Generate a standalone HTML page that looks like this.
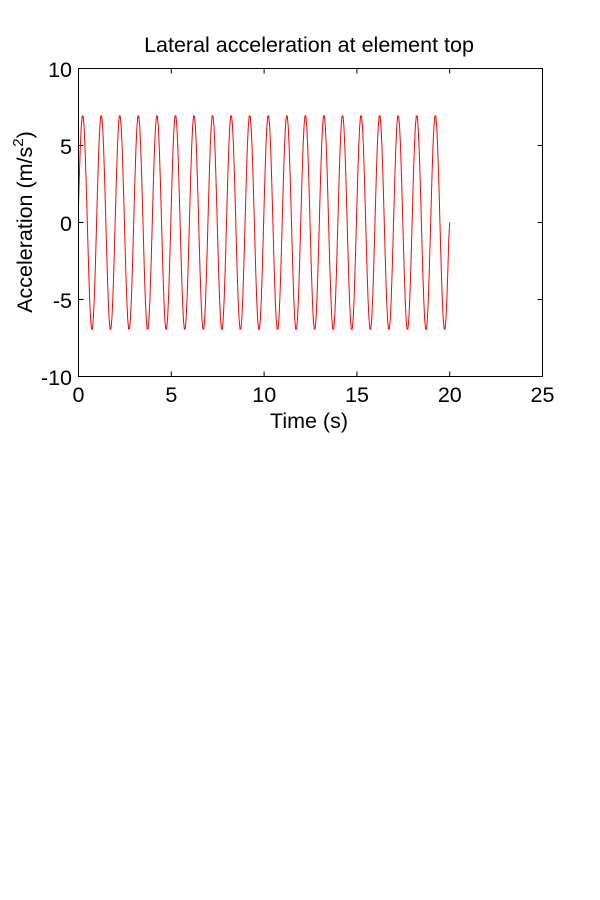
<!DOCTYPE html>
<html><head><meta charset="utf-8"><style>
body{margin:0;background:#fff;}
svg{display:block;font-family:"Liberation Sans",Arial,sans-serif;}
</style></head><body>
<svg id="s" width="600" height="900" xmlns="http://www.w3.org/2000/svg">
<rect width="600" height="900" fill="#fff"/>
<text x="309" y="52" font-size="21.5" text-anchor="middle">Lateral acceleration at element top</text>
<g id="ticks" stroke="#000" stroke-width="1"></g>
<polyline id="p" fill="none" stroke="#f00" stroke-width="1"/>
<rect x="78.5" y="68.5" width="464" height="308" fill="none" stroke="#000" stroke-width="1"/>
<g font-size="21.5" text-anchor="end">
<text x="72" y="77">10</text>
<text x="72" y="154">5</text>
<text x="72" y="231">0</text>
<text x="72" y="308">-5</text>
<text x="72" y="385">-10</text>
</g>
<g font-size="21.5" text-anchor="middle">
<text x="78.5" y="402">0</text>
<text x="171.3" y="402">5</text>
<text x="264.2" y="402">10</text>
<text x="357" y="402">15</text>
<text x="449.8" y="402">20</text>
<text x="542.5" y="402">25</text>
</g>
<text x="309" y="428" font-size="21.5" text-anchor="middle">Time (s)</text>
<text transform="translate(32,222) rotate(-90)" font-size="21.5" text-anchor="middle">Acceleration (m/s<tspan font-size="15" dy="-9">2</tspan><tspan dy="9">)</tspan></text>
</svg>
<script>
var X=t=>78.5+t*(464/25), Y=v=>222.5-v*15.4;
var pts=[];
for(var i=0;i<=400;i++){var t=i*0.05;var v=7*Math.sin(2*Math.PI*t+0.16);if(i==400)v=0;pts.push(X(t).toFixed(2)+','+Y(v).toFixed(2));}
document.getElementById('p').setAttribute('points',pts.join(' '));
var g=document.getElementById('ticks'),h='';
for(var k=0;k<=25;k+=5){var x=X(k);h+='<line x1="'+x+'" y1="376.5" x2="'+x+'" y2="371.5"/><line x1="'+x+'" y1="68.5" x2="'+x+'" y2="73.5"/>';}
for(var v=-10;v<=10;v+=5){var y=Y(v);h+='<line x1="78.5" y1="'+y+'" x2="83.5" y2="'+y+'"/><line x1="542.5" y1="'+y+'" x2="537.5" y2="'+y+'"/>';}
g.innerHTML=h;
</script>
</body></html>
